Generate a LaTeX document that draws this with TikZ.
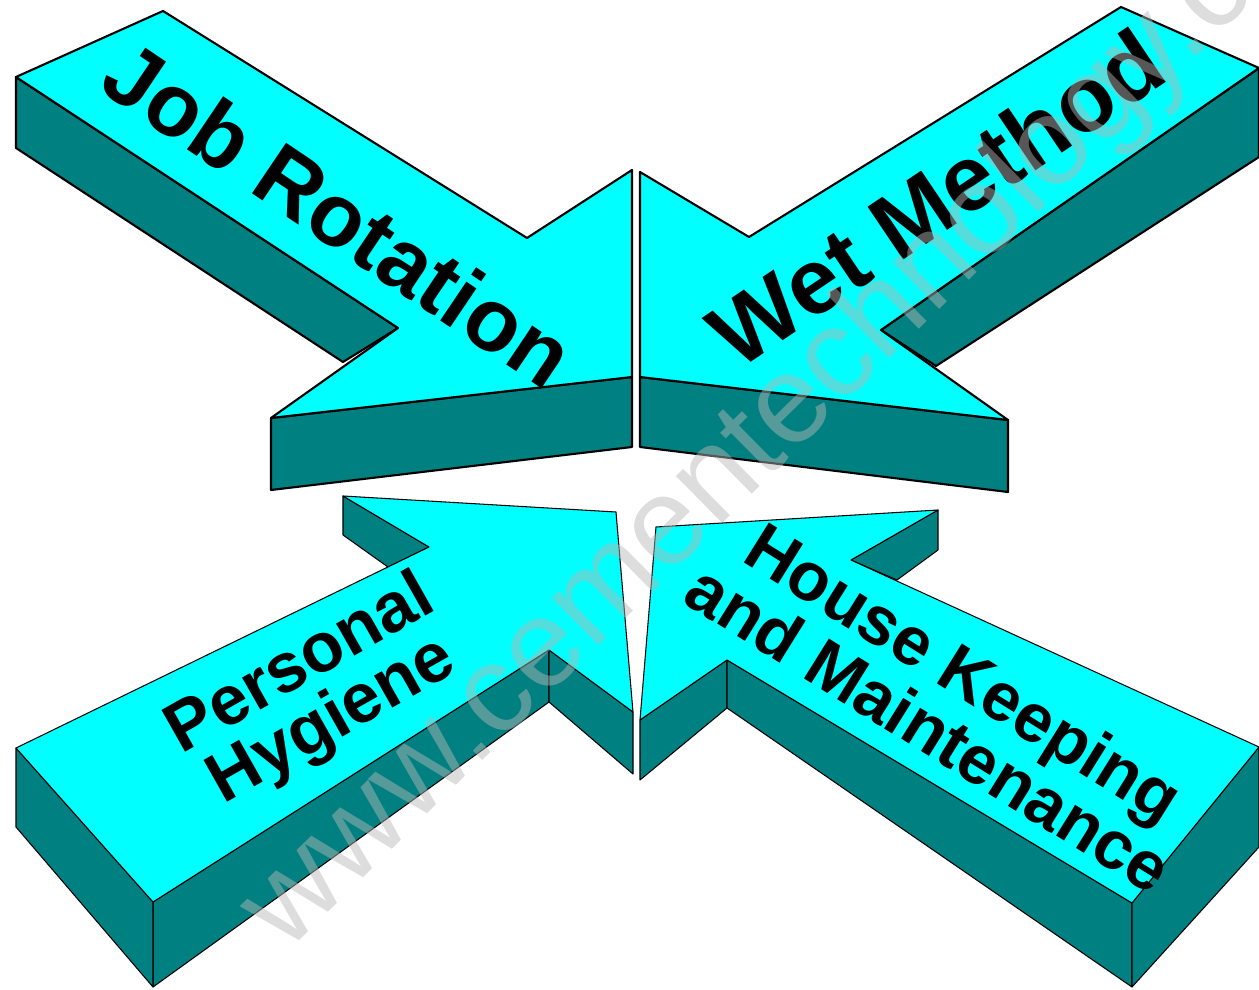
\documentclass[tikz,border=0pt]{standalone}
\usepackage{fontspec}
\setmainfont{Liberation Sans}
\definecolor{cy}{RGB}{0,255,255}
\definecolor{tl}{RGB}{0,128,128}
\definecolor{wmgray}{RGB}{183,183,183}
\begin{document}
\begin{tikzpicture}[x=0.02cm,y=-0.02cm,
  topface/.style={fill=cy, draw=black, line join=round},
  sideface/.style={fill=tl, draw=black, line join=round},
  upperline/.style={line width=1.2pt},
  lowerline/.style={line width=0.6pt},
  lbl/.style={inner sep=0pt, align=center, text=black}]
\useasboundingbox (0,0) rectangle (1259,990);

% Job Rotation
\draw[sideface,upperline] (16,77) -- (398,328) -- (343,362) -- (16,148) -- cycle;
\draw[sideface,upperline] (271,418) -- (632,377) -- (632,447) -- (271,490) -- cycle;
\draw[topface,upperline] (163,11) -- (16,77) -- (398,328) -- (271,418) -- (632,377) -- (632,170) -- (527,238) -- cycle;

% Wet Method
\draw[sideface,upperline] (881,330) -- (1259,68) -- (1259,157) -- (936,366) -- cycle;
\draw[sideface,upperline] (640,377) -- (1008,420) -- (1008,492) -- (640,447) -- cycle;
\draw[topface,upperline] (1121,7) -- (749,237) -- (640,172) -- (640,377) -- (1008,420) -- (881,330) -- (1259,68) -- cycle;

% Personal Hygiene
\draw[sideface,lowerline] (343,496) -- (429,547) -- (388,567) -- (343,535) -- cycle;
\draw[sideface,lowerline] (153,902) -- (549,650) -- (549,702) -- (153,987) -- cycle;
\draw[sideface,lowerline] (549,650) -- (633,712) -- (633,774) -- (549,702) -- cycle;
\draw[sideface,lowerline] (16,748) -- (153,902) -- (153,987) -- (16,827) -- cycle;
\draw[topface,lowerline] (343,496) -- (616,512) -- (633,712) -- (549,650) -- (153,902) -- (16,748) -- (429,547) -- cycle;

% House Keeping
\draw[sideface,lowerline] (938,510) -- (938,550) -- (897,580) -- (851,560) -- cycle;
\draw[sideface,lowerline] (640,720) -- (727,660) -- (727,708) -- (640,780) -- cycle;
\draw[sideface,lowerline] (727,660) -- (1132,903) -- (1132,987) -- (727,708) -- cycle;
\draw[sideface,lowerline] (1132,903) -- (1259,747) -- (1259,847) -- (1132,987) -- cycle;
\draw[topface,lowerline] (656,527) -- (938,510) -- (851,560) -- (1259,747) -- (1132,903) -- (727,660) -- (640,720) -- cycle;

% labels
\node[lbl, rotate=-34, font=\bfseries\fontsize{50.5}{52}\selectfont] (jr) at (339,214) {Job Rotation};
\node[lbl, rotate=34, font=\bfseries\fontsize{52.7}{55}\selectfont] (wmth) at (936,198) {Wet Method};
\node[lbl, rotate=29.5, font=\bfseries\fontsize{39.7}{36.3}\selectfont] (ph) at (317,694) {Personal\\Hygiene};
\node[lbl, rotate=-32, font=\bfseries\fontsize{39}{36}\selectfont] (hk) at (947,700) {House Keeping\\and Maintenance};

% watermark
\begin{scope}
\clip (0,0) rectangle (1259,990);
\node[anchor=base west, rotate=44.6, inner sep=0pt, text=wmgray, text opacity=0.48, font=\fontsize{71}{78}\selectfont] (water) at (286.5,953.6) {www.cementechnology.com};
\end{scope}
\end{tikzpicture}
\end{document}
